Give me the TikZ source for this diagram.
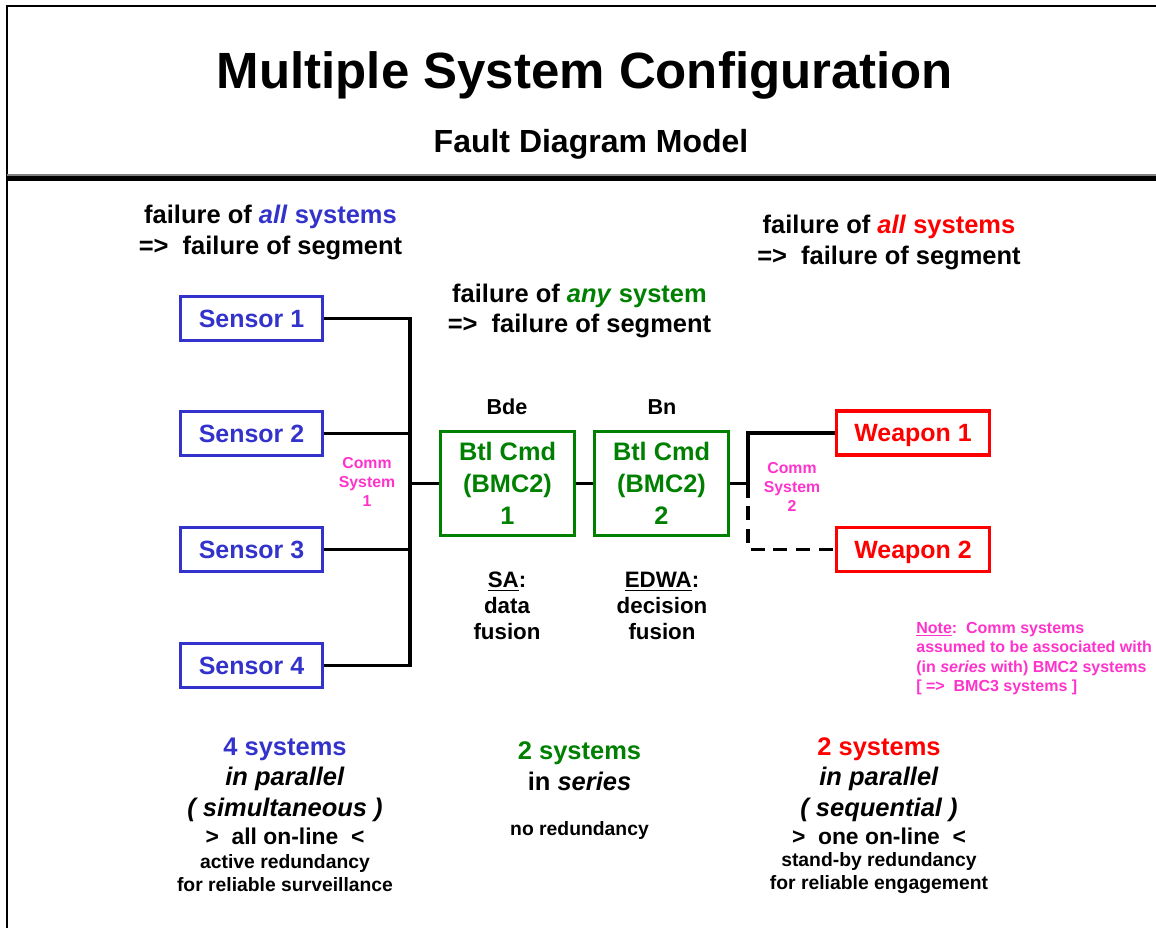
\documentclass[tikz,border=0pt]{standalone}
\usepackage{fontspec}
\setmainfont{Liberation Sans}
\usepackage{xcolor}
\definecolor{sensorblue}{RGB}{51,51,204}
\definecolor{cmdgreen}{RGB}{0,128,0}
\definecolor{commpink}{RGB}{255,51,204}

\begin{document}
\begin{tikzpicture}[
	line/.style={line width=1.9pt},
	unit/.style={draw, line width=1.9pt, minimum width=2.84cm, minimum height=0.88cm, inner sep=0pt, font=\fontsize{14.2}{17}\selectfont\bfseries},
	sensor/.style={unit, draw=sensorblue, text=sensorblue, text height=10.2pt, text depth=0pt},
	weapon/.style={unit, draw=red, text=red, minimum width=3.06cm, text height=10.2pt, text depth=0pt},
	cmd/.style={unit, draw=cmdgreen, text=cmdgreen, minimum width=2.68cm, minimum height=2.08cm, align=center, font=\fontsize{14.4}{18.2}\selectfont\bfseries},
	head/.style={align=center, inner sep=0pt, font=\fontsize{14.5}{17.4}\selectfont\bfseries},
	echelon/.style={inner sep=0pt, font=\fontsize{12.3}{14.8}\selectfont\bfseries},
	fusion/.style={align=center, inner sep=0pt, font=\fontsize{12.7}{14.8}\selectfont\bfseries},
	comm/.style={align=center, inner sep=0pt, text=commpink, font=\fontsize{9}{10.8}\selectfont\bfseries},
	online/.style={inner sep=0pt, font=\fontsize{13}{15.6}\selectfont\bfseries},
	remark/.style={align=center, inner sep=0pt, font=\fontsize{11}{13.1}\selectfont\bfseries}]
	\useasboundingbox (0,0) rectangle (23.12,18.56);
	% frame and title bar
	\draw[line width=1.1pt] (0.14,0) -- (0.14,18.44) -- (23.12,18.44);
	\draw[color=gray, line width=0.6pt] (0.14,15.06) -- (23.12,15.06);
	\draw[line width=2.85pt] (0.14,14.98) -- (23.12,14.98);
	\node (title) at (11.7,17.06) {\fontsize{29}{35}\selectfont\bfseries Multiple System Configuration};
	\node (subtitle) at (11.82,15.68) {\fontsize{18.2}{22}\selectfont\bfseries Fault Diagram Model};
	% segment rules
	\node[head] (ruleS) at (5.41,13.91) {failure of \textcolor{sensorblue}{\textit{all} systems}\\=>\ \ failure of segment};
	\node[head] (ruleC) at (11.59,12.34) {failure of \textcolor{cmdgreen}{\textit{any} system}\\=>\ \ failure of segment};
	\node[head] (ruleW) at (17.78,13.71) {failure of \textcolor{red}{\textit{all} systems}\\=>\ \ failure of segment};
	% sensors
	\node[sensor] (s1) at (5.03,12.19) {Sensor 1};
	\node[sensor] (s2) at (5.03,9.89) {Sensor 2};
	\node[sensor] (s3) at (5.03,7.57) {Sensor 3};
	\node[sensor] (s4) at (5.03,5.25) {Sensor 4};
	% battle command
	\node[cmd] (c1) at (10.15,8.89) {Btl Cmd\\(BMC2)\\1};
	\node[cmd] (c2) at (13.23,8.89) {Btl Cmd\\(BMC2)\\2};
	\node[echelon] (bde) at (10.14,10.42) {Bde};
	\node[echelon] (bn) at (13.24,10.42) {Bn};
	\node[fusion] (sa) at (10.14,6.44) {\underline{SA}:\\data\\fusion};
	\node[fusion] (edwa) at (13.24,6.44) {\underline{EDWA}:\\decision\\fusion};
	% weapons
	\node[weapon] (w1) at (18.26,9.90) {Weapon 1};
	\node[weapon] (w2) at (18.26,7.57) {Weapon 2};
	% comm systems
	\coordinate (bus1) at (8.2,0);
	\coordinate (bus2) at (14.96,0);
	\node[comm] (comm1) at (7.34,8.92) {Comm\\System\\1};
	\node[comm] (comm2) at (15.84,8.82) {Comm\\System\\2};
	\draw[line] (s1.east) -| (s4.east -| bus1) -- (s4.east);
	\draw[line] (s2.east) -- (s2.east -| bus1);
	\draw[line] (s3.east) -- (s3.east -| bus1);
	\draw[line] (c1.west -| bus1) -- (c1.west);
	\draw[line] (c1.east) -- (c2.west);
	\draw[line] (c2.east) -- (c2.east -| bus2) |- (w1.west);
	\draw[line, dash pattern=on 8pt off 5pt] (c2.east -| bus2) |- (w2.west);
	\node[comm, align=left, anchor=west, font=\fontsize{9.1}{11.1}\selectfont\bfseries] (note) at (18.32,5.39)
	  {\underline{Note}:\ \ Comm systems\\assumed to be associated with\\(in \textit{series} with) BMC2 systems\\{[} =>\ \ BMC3 systems {]}};
	% summaries
	\node[head] (sumS) at (5.7,2.97) {\textcolor{sensorblue}{4 systems}\\\textit{in parallel}\\\textit{( simultaneous )}};
	\node[online] (onS) at (5.7,1.84) {>\ \ all on-line\ \ <};
	\node[remark] (redS) at (5.7,1.10) {active redundancy\\for reliable surveillance};
	\node[head] (sumC) at (11.59,3.23) {\textcolor{cmdgreen}{2 systems}\\in \textit{series}};
	\node[remark] (redC) at (11.59,1.94) {no redundancy};
	\node[head] (sumW) at (17.58,2.97) {\textcolor{red}{2 systems}\\\textit{in parallel}\\\textit{( sequential )}};
	\node[online] (onW) at (17.58,1.84) {>\ \ one on-line\ \ <};
	\node[remark] (redW) at (17.58,1.10) {stand-by redundancy\\for reliable engagement};
\end{tikzpicture}
\end{document}
